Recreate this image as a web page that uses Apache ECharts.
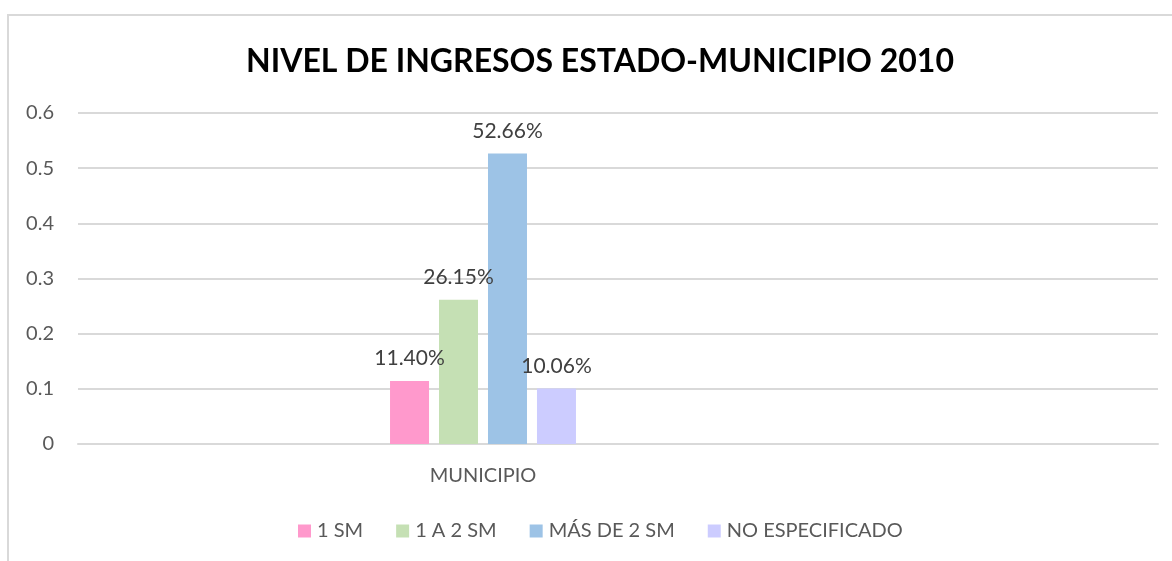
<!DOCTYPE html>
<html>
<head>
<meta charset="utf-8">
<script src="https://cdn.jsdelivr.net/npm/echarts@6/dist/echarts.min.js"></script>
<style>
  html, body { margin: 0; padding: 0; background: #fff; }
  #frame {
    position: absolute; left: 7px; top: 14px; width: 1200px; height: 600px;
    border-left: 2px solid #d9d9d9; border-top: 2px solid #d9d9d9;
  }
  #chart { position: absolute; left: 0; top: 0; width: 1172px; height: 561px; }
</style>
</head>
<body>
<div id="frame"></div>
<div id="chart"></div>
<script>
// categories on the x axis (only MUNICIPIO has data)
const categories = ['', 'MUNICIPIO', '', ''];
const seriesNames = ['1 SM', '1 A 2 SM', 'MÁS DE 2 SM', 'NO ESPECIFICADO'];
const uno = [null, 0.1140, null, null];
const unoADos = [null, 0.2615, null, null];
const masDeDos = [null, 0.5266, null, null];
const noEspecificado = [null, 0.1006, null, null];
const yTicks = [0, 0.1, 0.2, 0.3, 0.4, 0.5, 0.6];

const colors = ['#ff99cc', '#c5e0b4', '#9dc3e6', '#ccccff'];
const fontFam = 'Lato, "Open Sans", sans-serif';

const chart = echarts.init(document.getElementById('chart'));

const mkSeries = (name, data) => ({
  name: name,
  type: 'bar',
  data: data,
  barWidth: 39,
  barGap: '25.6%',
  label: {
    show: true,
    position: 'top',
    distance: 12,
    color: '#404040',
    fontSize: 21,
    fontFamily: fontFam,
    formatter: (p) => (p.value * 100).toFixed(2) + '%'
  }
});

const option = {
  color: colors,
  animation: false,
  title: {
    text: 'NIVEL DE INGRESOS ESTADO-MUNICIPIO 2010',
    left: 595,
    top: 41,
    textAlign: 'center',
    textStyle: { fontSize: 32, fontWeight: 'bold', color: '#000', fontFamily: fontFam }
  },
  legend: {
    data: seriesNames,
    left: 293,
    top: 516,
    itemWidth: 13,
    itemHeight: 13,
    itemGap: 33,
    icon: 'rect',
    textStyle: { color: '#595959', fontSize: 20, fontFamily: fontFam, padding: [0, 0, 0, 1] }
  },
  grid: { left: 78, right: 14, top: 113, bottom: 117, containLabel: false },
  xAxis: {
    type: 'category',
    data: categories,
    axisLine: { lineStyle: { color: '#d9d9d9', width: 2 } },
    axisTick: { show: false },
    axisLabel: { color: '#595959', fontSize: 20, fontFamily: fontFam, margin: 22 }
  },
  yAxis: {
    type: 'value',
    min: yTicks[0],
    max: yTicks[yTicks.length - 1],
    interval: 0.1,
    axisLine: { show: false },
    axisTick: { show: false },
    splitLine: { lineStyle: { color: '#d9d9d9', width: 2 } },
    axisLabel: {
      color: '#595959', fontSize: 20, fontFamily: fontFam, margin: 24,
      formatter: (v) => (v === 0 ? '0' : v.toFixed(1))
    }
  },
  series: [
    mkSeries(seriesNames[0], uno),
    mkSeries(seriesNames[1], unoADos),
    mkSeries(seriesNames[2], masDeDos),
    mkSeries(seriesNames[3], noEspecificado)
  ]
};

chart.setOption(option);
</script>
</body>
</html>
